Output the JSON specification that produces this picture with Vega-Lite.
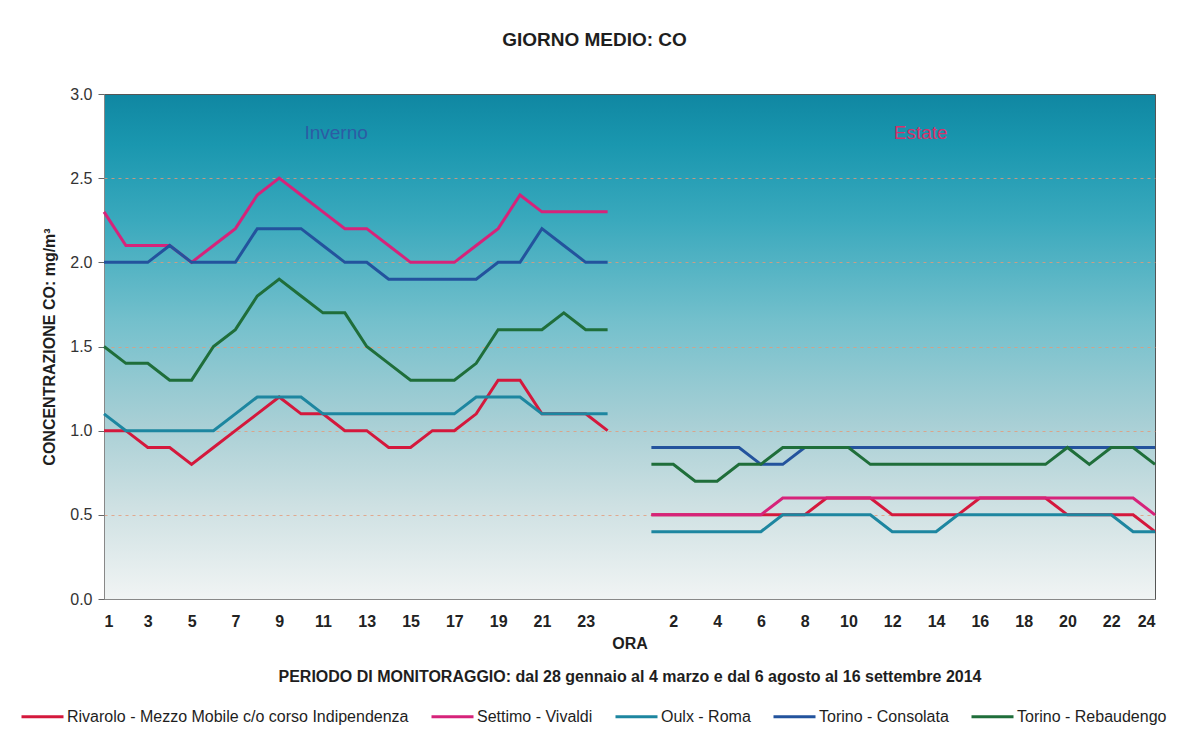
{
  "$schema": "https://vega.github.io/schema/vega-lite/v6.json",
  "autosize": {"type": "none"},
  "padding": {"left": 104, "top": 94, "right": 31, "bottom": 134},
  "width": 1051,
  "height": 505,
  "background": "white",
  "title": {"text": "GIORNO MEDIO: CO", "fontSize": 19, "font": "Liberation Sans", "fontWeight": "bold", "color": "#1e1e1e", "anchor": "middle", "offset": 36, "dx": -35},
  "config": {
    "font": "Liberation Sans",
    "view": {
      "stroke": "#555555",
      "strokeWidth": 1,
      "fill": {"gradient": "linear", "x1": 0, "y1": 0, "x2": 0, "y2": 1,
        "stops": [
          {"offset": 0, "color": "#1087a2"},
          {"offset": 0.1, "color": "#1a97af"},
          {"offset": 0.25, "color": "#3aa9bd"},
          {"offset": 0.45, "color": "#74c0cc"},
          {"offset": 0.65, "color": "#a8cfd5"},
          {"offset": 0.82, "color": "#cfe1e3"},
          {"offset": 1, "color": "#f1f4f4"}
        ]}
    }
  },
  "datasets": {
    "stazioni": [
      {"k": "R", "nome": "Rivarolo - Mezzo Mobile c/o corso Indipendenza"},
      {"k": "S", "nome": "Settimo - Vivaldi"},
      {"k": "O", "nome": "Oulx - Roma"},
      {"k": "C", "nome": "Torino - Consolata"},
      {"k": "B", "nome": "Torino - Rebaudengo"}
    ],
    "punti": [
      {"k":"R","p":"I","h":1,"v":1.0},{"k":"R","p":"I","h":2,"v":1.0},{"k":"R","p":"I","h":3,"v":0.9},{"k":"R","p":"I","h":4,"v":0.9},{"k":"R","p":"I","h":5,"v":0.8},{"k":"R","p":"I","h":6,"v":0.9},{"k":"R","p":"I","h":7,"v":1.0},{"k":"R","p":"I","h":8,"v":1.1},{"k":"R","p":"I","h":9,"v":1.2},{"k":"R","p":"I","h":10,"v":1.1},{"k":"R","p":"I","h":11,"v":1.1},{"k":"R","p":"I","h":12,"v":1.0},{"k":"R","p":"I","h":13,"v":1.0},{"k":"R","p":"I","h":14,"v":0.9},{"k":"R","p":"I","h":15,"v":0.9},{"k":"R","p":"I","h":16,"v":1.0},{"k":"R","p":"I","h":17,"v":1.0},{"k":"R","p":"I","h":18,"v":1.1},{"k":"R","p":"I","h":19,"v":1.3},{"k":"R","p":"I","h":20,"v":1.3},{"k":"R","p":"I","h":21,"v":1.1},{"k":"R","p":"I","h":22,"v":1.1},{"k":"R","p":"I","h":23,"v":1.1},{"k":"R","p":"I","h":24,"v":1.0},
      {"k":"R","p":"E","h":1,"v":0.5},{"k":"R","p":"E","h":2,"v":0.5},{"k":"R","p":"E","h":3,"v":0.5},{"k":"R","p":"E","h":4,"v":0.5},{"k":"R","p":"E","h":5,"v":0.5},{"k":"R","p":"E","h":6,"v":0.5},{"k":"R","p":"E","h":7,"v":0.5},{"k":"R","p":"E","h":8,"v":0.5},{"k":"R","p":"E","h":9,"v":0.6},{"k":"R","p":"E","h":10,"v":0.6},{"k":"R","p":"E","h":11,"v":0.6},{"k":"R","p":"E","h":12,"v":0.5},{"k":"R","p":"E","h":13,"v":0.5},{"k":"R","p":"E","h":14,"v":0.5},{"k":"R","p":"E","h":15,"v":0.5},{"k":"R","p":"E","h":16,"v":0.6},{"k":"R","p":"E","h":17,"v":0.6},{"k":"R","p":"E","h":18,"v":0.6},{"k":"R","p":"E","h":19,"v":0.6},{"k":"R","p":"E","h":20,"v":0.5},{"k":"R","p":"E","h":21,"v":0.5},{"k":"R","p":"E","h":22,"v":0.5},{"k":"R","p":"E","h":23,"v":0.5},{"k":"R","p":"E","h":24,"v":0.4},
      {"k":"S","p":"I","h":1,"v":2.3},{"k":"S","p":"I","h":2,"v":2.1},{"k":"S","p":"I","h":3,"v":2.1},{"k":"S","p":"I","h":4,"v":2.1},{"k":"S","p":"I","h":5,"v":2.0},{"k":"S","p":"I","h":6,"v":2.1},{"k":"S","p":"I","h":7,"v":2.2},{"k":"S","p":"I","h":8,"v":2.4},{"k":"S","p":"I","h":9,"v":2.5},{"k":"S","p":"I","h":10,"v":2.4},{"k":"S","p":"I","h":11,"v":2.3},{"k":"S","p":"I","h":12,"v":2.2},{"k":"S","p":"I","h":13,"v":2.2},{"k":"S","p":"I","h":14,"v":2.1},{"k":"S","p":"I","h":15,"v":2.0},{"k":"S","p":"I","h":16,"v":2.0},{"k":"S","p":"I","h":17,"v":2.0},{"k":"S","p":"I","h":18,"v":2.1},{"k":"S","p":"I","h":19,"v":2.2},{"k":"S","p":"I","h":20,"v":2.4},{"k":"S","p":"I","h":21,"v":2.3},{"k":"S","p":"I","h":22,"v":2.3},{"k":"S","p":"I","h":23,"v":2.3},{"k":"S","p":"I","h":24,"v":2.3},
      {"k":"S","p":"E","h":1,"v":0.5},{"k":"S","p":"E","h":2,"v":0.5},{"k":"S","p":"E","h":3,"v":0.5},{"k":"S","p":"E","h":4,"v":0.5},{"k":"S","p":"E","h":5,"v":0.5},{"k":"S","p":"E","h":6,"v":0.5},{"k":"S","p":"E","h":7,"v":0.6},{"k":"S","p":"E","h":8,"v":0.6},{"k":"S","p":"E","h":9,"v":0.6},{"k":"S","p":"E","h":10,"v":0.6},{"k":"S","p":"E","h":11,"v":0.6},{"k":"S","p":"E","h":12,"v":0.6},{"k":"S","p":"E","h":13,"v":0.6},{"k":"S","p":"E","h":14,"v":0.6},{"k":"S","p":"E","h":15,"v":0.6},{"k":"S","p":"E","h":16,"v":0.6},{"k":"S","p":"E","h":17,"v":0.6},{"k":"S","p":"E","h":18,"v":0.6},{"k":"S","p":"E","h":19,"v":0.6},{"k":"S","p":"E","h":20,"v":0.6},{"k":"S","p":"E","h":21,"v":0.6},{"k":"S","p":"E","h":22,"v":0.6},{"k":"S","p":"E","h":23,"v":0.6},{"k":"S","p":"E","h":24,"v":0.5},
      {"k":"O","p":"I","h":1,"v":1.1},{"k":"O","p":"I","h":2,"v":1.0},{"k":"O","p":"I","h":3,"v":1.0},{"k":"O","p":"I","h":4,"v":1.0},{"k":"O","p":"I","h":5,"v":1.0},{"k":"O","p":"I","h":6,"v":1.0},{"k":"O","p":"I","h":7,"v":1.1},{"k":"O","p":"I","h":8,"v":1.2},{"k":"O","p":"I","h":9,"v":1.2},{"k":"O","p":"I","h":10,"v":1.2},{"k":"O","p":"I","h":11,"v":1.1},{"k":"O","p":"I","h":12,"v":1.1},{"k":"O","p":"I","h":13,"v":1.1},{"k":"O","p":"I","h":14,"v":1.1},{"k":"O","p":"I","h":15,"v":1.1},{"k":"O","p":"I","h":16,"v":1.1},{"k":"O","p":"I","h":17,"v":1.1},{"k":"O","p":"I","h":18,"v":1.2},{"k":"O","p":"I","h":19,"v":1.2},{"k":"O","p":"I","h":20,"v":1.2},{"k":"O","p":"I","h":21,"v":1.1},{"k":"O","p":"I","h":22,"v":1.1},{"k":"O","p":"I","h":23,"v":1.1},{"k":"O","p":"I","h":24,"v":1.1},
      {"k":"O","p":"E","h":1,"v":0.4},{"k":"O","p":"E","h":2,"v":0.4},{"k":"O","p":"E","h":3,"v":0.4},{"k":"O","p":"E","h":4,"v":0.4},{"k":"O","p":"E","h":5,"v":0.4},{"k":"O","p":"E","h":6,"v":0.4},{"k":"O","p":"E","h":7,"v":0.5},{"k":"O","p":"E","h":8,"v":0.5},{"k":"O","p":"E","h":9,"v":0.5},{"k":"O","p":"E","h":10,"v":0.5},{"k":"O","p":"E","h":11,"v":0.5},{"k":"O","p":"E","h":12,"v":0.4},{"k":"O","p":"E","h":13,"v":0.4},{"k":"O","p":"E","h":14,"v":0.4},{"k":"O","p":"E","h":15,"v":0.5},{"k":"O","p":"E","h":16,"v":0.5},{"k":"O","p":"E","h":17,"v":0.5},{"k":"O","p":"E","h":18,"v":0.5},{"k":"O","p":"E","h":19,"v":0.5},{"k":"O","p":"E","h":20,"v":0.5},{"k":"O","p":"E","h":21,"v":0.5},{"k":"O","p":"E","h":22,"v":0.5},{"k":"O","p":"E","h":23,"v":0.4},{"k":"O","p":"E","h":24,"v":0.4},
      {"k":"C","p":"I","h":1,"v":2.0},{"k":"C","p":"I","h":2,"v":2.0},{"k":"C","p":"I","h":3,"v":2.0},{"k":"C","p":"I","h":4,"v":2.1},{"k":"C","p":"I","h":5,"v":2.0},{"k":"C","p":"I","h":6,"v":2.0},{"k":"C","p":"I","h":7,"v":2.0},{"k":"C","p":"I","h":8,"v":2.2},{"k":"C","p":"I","h":9,"v":2.2},{"k":"C","p":"I","h":10,"v":2.2},{"k":"C","p":"I","h":11,"v":2.1},{"k":"C","p":"I","h":12,"v":2.0},{"k":"C","p":"I","h":13,"v":2.0},{"k":"C","p":"I","h":14,"v":1.9},{"k":"C","p":"I","h":15,"v":1.9},{"k":"C","p":"I","h":16,"v":1.9},{"k":"C","p":"I","h":17,"v":1.9},{"k":"C","p":"I","h":18,"v":1.9},{"k":"C","p":"I","h":19,"v":2.0},{"k":"C","p":"I","h":20,"v":2.0},{"k":"C","p":"I","h":21,"v":2.2},{"k":"C","p":"I","h":22,"v":2.1},{"k":"C","p":"I","h":23,"v":2.0},{"k":"C","p":"I","h":24,"v":2.0},
      {"k":"C","p":"E","h":1,"v":0.9},{"k":"C","p":"E","h":2,"v":0.9},{"k":"C","p":"E","h":3,"v":0.9},{"k":"C","p":"E","h":4,"v":0.9},{"k":"C","p":"E","h":5,"v":0.9},{"k":"C","p":"E","h":6,"v":0.8},{"k":"C","p":"E","h":7,"v":0.8},{"k":"C","p":"E","h":8,"v":0.9},{"k":"C","p":"E","h":9,"v":0.9},{"k":"C","p":"E","h":10,"v":0.9},{"k":"C","p":"E","h":11,"v":0.9},{"k":"C","p":"E","h":12,"v":0.9},{"k":"C","p":"E","h":13,"v":0.9},{"k":"C","p":"E","h":14,"v":0.9},{"k":"C","p":"E","h":15,"v":0.9},{"k":"C","p":"E","h":16,"v":0.9},{"k":"C","p":"E","h":17,"v":0.9},{"k":"C","p":"E","h":18,"v":0.9},{"k":"C","p":"E","h":19,"v":0.9},{"k":"C","p":"E","h":20,"v":0.9},{"k":"C","p":"E","h":21,"v":0.9},{"k":"C","p":"E","h":22,"v":0.9},{"k":"C","p":"E","h":23,"v":0.9},{"k":"C","p":"E","h":24,"v":0.9},
      {"k":"B","p":"I","h":1,"v":1.5},{"k":"B","p":"I","h":2,"v":1.4},{"k":"B","p":"I","h":3,"v":1.4},{"k":"B","p":"I","h":4,"v":1.3},{"k":"B","p":"I","h":5,"v":1.3},{"k":"B","p":"I","h":6,"v":1.5},{"k":"B","p":"I","h":7,"v":1.6},{"k":"B","p":"I","h":8,"v":1.8},{"k":"B","p":"I","h":9,"v":1.9},{"k":"B","p":"I","h":10,"v":1.8},{"k":"B","p":"I","h":11,"v":1.7},{"k":"B","p":"I","h":12,"v":1.7},{"k":"B","p":"I","h":13,"v":1.5},{"k":"B","p":"I","h":14,"v":1.4},{"k":"B","p":"I","h":15,"v":1.3},{"k":"B","p":"I","h":16,"v":1.3},{"k":"B","p":"I","h":17,"v":1.3},{"k":"B","p":"I","h":18,"v":1.4},{"k":"B","p":"I","h":19,"v":1.6},{"k":"B","p":"I","h":20,"v":1.6},{"k":"B","p":"I","h":21,"v":1.6},{"k":"B","p":"I","h":22,"v":1.7},{"k":"B","p":"I","h":23,"v":1.6},{"k":"B","p":"I","h":24,"v":1.6},
      {"k":"B","p":"E","h":1,"v":0.8},{"k":"B","p":"E","h":2,"v":0.8},{"k":"B","p":"E","h":3,"v":0.7},{"k":"B","p":"E","h":4,"v":0.7},{"k":"B","p":"E","h":5,"v":0.8},{"k":"B","p":"E","h":6,"v":0.8},{"k":"B","p":"E","h":7,"v":0.9},{"k":"B","p":"E","h":8,"v":0.9},{"k":"B","p":"E","h":9,"v":0.9},{"k":"B","p":"E","h":10,"v":0.9},{"k":"B","p":"E","h":11,"v":0.8},{"k":"B","p":"E","h":12,"v":0.8},{"k":"B","p":"E","h":13,"v":0.8},{"k":"B","p":"E","h":14,"v":0.8},{"k":"B","p":"E","h":15,"v":0.8},{"k":"B","p":"E","h":16,"v":0.8},{"k":"B","p":"E","h":17,"v":0.8},{"k":"B","p":"E","h":18,"v":0.8},{"k":"B","p":"E","h":19,"v":0.8},{"k":"B","p":"E","h":20,"v":0.9},{"k":"B","p":"E","h":21,"v":0.8},{"k":"B","p":"E","h":22,"v":0.9},{"k":"B","p":"E","h":23,"v":0.9},{"k":"B","p":"E","h":24,"v":0.8}
    ]
  },
  "layer": [
    {
      "data": {"name": "punti"},
      "transform": [
        {"lookup": "k", "from": {"data": {"name": "stazioni"}, "key": "k", "fields": ["nome"]}},
        {"calculate": "datum.h + (datum.p == 'E' ? 25 : 0)", "as": "xi"}
      ],
      "mark": {"type": "line", "strokeWidth": 3},
      "encoding": {
        "x": {"field": "xi", "type": "quantitative",
          "scale": {"domain": [1, 49], "nice": false, "zero": false},
          "axis": {
            "values": [1,3,5,7,9,11,13,15,17,19,21,23,27,29,31,33,35,37,39,41,43,45,47,49],
            "labelExpr": "'' + (datum.value <= 24 ? datum.value : datum.value - 25)",
            "grid": false, "ticks": false, "labelPadding": 14,
            "labelFontSize": 16, "labelFontWeight": "bold", "labelColor": "#222222",
            "domainColor": "#888888",
            "title": ["ORA", "PERIODO DI MONITORAGGIO: dal 28 gennaio al 4 marzo e dal 6 agosto al 16 settembre 2014"],
            "titleFontSize": 16, "titleFontWeight": "bold", "titleLineHeight": 33, "titlePadding": 6, "titleColor": "#1e1e1e"
          }
        },
        "y": {"field": "v", "type": "quantitative",
          "scale": {"domain": [0, 3], "nice": false},
          "axis": {
            "values": [0, 0.5, 1, 1.5, 2, 2.5, 3], "format": ".1f",
            "grid": true, "gridColor": "#e59a78", "gridDash": [3, 4],
            "gridOpacity": {"condition": {"test": "datum.value == 3 || datum.value == 0", "value": 0}, "value": 0.8},
            "tickSize": 6, "tickColor": "#666666", "domainColor": "#888888",
            "labelFontSize": 16, "labelColor": "#333333", "labelPadding": 6,
            "title": "CONCENTRAZIONE CO: mg/m³", "titleFontSize": 16, "titleFontWeight": "bold",
            "titlePadding": 12, "titleColor": "#1e1e1e"
          }
        },
        "detail": {"field": "p", "type": "nominal"},
        "color": {"field": "nome", "type": "nominal",
          "scale": {
            "domain": ["Rivarolo - Mezzo Mobile c/o corso Indipendenza", "Settimo - Vivaldi", "Oulx - Roma", "Torino - Consolata", "Torino - Rebaudengo"],
            "range": ["#d4183c", "#d6237a", "#1d86a0", "#23539d", "#1f6e3a"]
          },
          "legend": {
            "orient": "none", "legendX": -84, "legendY": 600, "direction": "horizontal", "columns": 5,
            "title": null, "symbolType": "stroke", "symbolSize": 1764, "symbolStrokeWidth": 3,
            "labelFontSize": 16, "labelColor": "#1e1e1e", "labelLimit": 500, "columnPadding": 16, "labelOffset": 2
          }
        }
      }
    },
    {
      "data": {"values": [{"testo": "Inverno", "xi": 11.6, "v": 2.77}]},
      "mark": {"type": "text", "fontSize": 19, "color": "#2c5ca4", "align": "center", "baseline": "middle"},
      "encoding": {
        "x": {"field": "xi", "type": "quantitative"},
        "y": {"field": "v", "type": "quantitative"},
        "text": {"field": "testo"}
      }
    },
    {
      "data": {"values": [{"testo": "Estate", "xi": 38.3, "v": 2.77}]},
      "mark": {"type": "text", "fontSize": 19, "color": "#d8306a", "align": "center", "baseline": "middle"},
      "encoding": {
        "x": {"field": "xi", "type": "quantitative"},
        "y": {"field": "v", "type": "quantitative"},
        "text": {"field": "testo"}
      }
    }
  ]
}
